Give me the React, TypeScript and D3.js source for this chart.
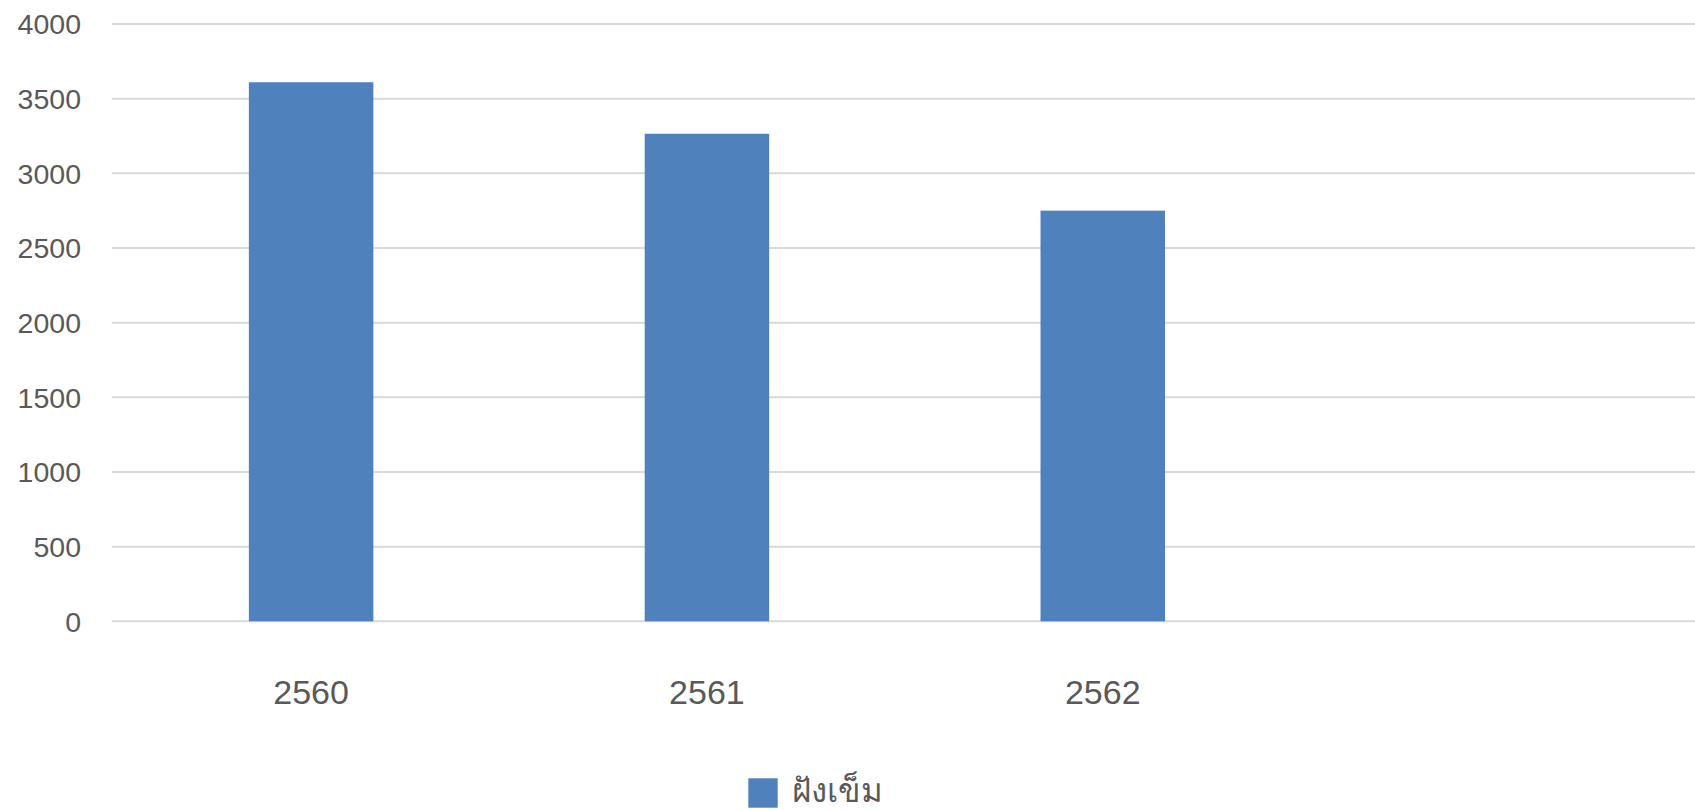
import React, { useEffect, useRef } from "react";
import * as d3 from "d3";

const categories = ["2560", "2561", "2562", ""];
const values = [3610, 3265, 2750];
const seriesName = "ฝังเข็ม";
const yTicks = [0, 500, 1000, 1500, 2000, 2500, 3000, 3500, 4000];

const WIDTH = 1695;
const HEIGHT = 810;
const BAR_COLOR = "#4f81bd";
const TEXT_COLOR = "#595959";
const FONT = "Arial, 'Liberation Sans', 'Noto Sans', sans-serif";

const App: React.FC = () => {
  const ref = useRef<SVGSVGElement>(null);

  useEffect(() => {
    document.body.style.margin = "0";
    if (!ref.current) return;

    const svg = d3.select(ref.current);
    svg.selectAll("*").remove();

    const plot = { left: 111.7, right: WIDTH, top: 24, bottom: 621.3 };

    // 4 slots, the last one empty (as in the original sheet)
    const x = d3
      .scaleBand<string>()
      .domain(categories)
      .range([plot.left, plot.right])
      .paddingInner(0.6855)
      .paddingOuter(0.6855 / 2);

    const y = d3.scaleLinear().domain([0, 4000]).range([plot.bottom, plot.top]);

    // gridlines
    svg
      .append("g")
      .selectAll("line")
      .data(yTicks)
      .enter()
      .append("line")
      .attr("x1", plot.left)
      .attr("x2", plot.right)
      .attr("y1", (d) => y(d))
      .attr("y2", (d) => y(d))
      .attr("stroke", "#d9d9d9")
      .attr("stroke-width", 2);

    // y tick labels
    svg
      .append("g")
      .selectAll("text")
      .data(yTicks)
      .enter()
      .append("text")
      .attr("x", 81)
      .attr("y", (d) => y(d))
      .attr("dy", "0.36em")
      .attr("text-anchor", "end")
      .style("font-family", FONT)
      .style("font-size", "28.5px")
      .style("fill", TEXT_COLOR)
      .text((d) => String(d));

    // bars
    svg
      .append("g")
      .selectAll("rect")
      .data(values)
      .enter()
      .append("rect")
      .attr("x", (_d, i) => (x(categories[i]) as number) + 1.5)
      .attr("width", x.bandwidth())
      .attr("y", (d) => y(d))
      .attr("height", (d) => y(0) - y(d))
      .attr("fill", BAR_COLOR);

    // category labels
    svg
      .append("g")
      .selectAll("text")
      .data(categories)
      .enter()
      .append("text")
      .attr("x", (d) => (x(d) as number) + x.bandwidth() / 2 + 1.5)
      .attr("y", 704)
      .attr("text-anchor", "middle")
      .style("font-family", FONT)
      .style("font-size", "34px")
      .style("fill", TEXT_COLOR)
      .text((d) => d);

    // legend
    const legend = svg.append("g");
    legend
      .append("rect")
      .attr("x", 748.3)
      .attr("y", 778.3)
      .attr("width", 29.4)
      .attr("height", 29.4)
      .attr("fill", BAR_COLOR);
    legend
      .append("text")
      .attr("x", 792)
      .attr("y", 802)
      .style("font-family", FONT)
      .style("font-size", "33px")
      .style("fill", TEXT_COLOR)
      .text(seriesName);
  }, []);

  return <svg ref={ref} width={WIDTH} height={HEIGHT} style={{ display: "block", background: "#fff" }} />;
};

export default App;
